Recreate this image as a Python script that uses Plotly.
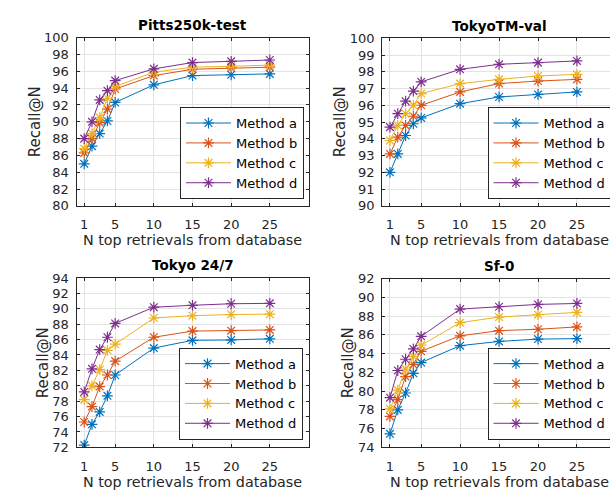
import plotly.graph_objects as go

N = [1, 2, 3, 4, 5, 10, 15, 20, 25]
methods = ["Method a", "Method b", "Method c", "Method d"]
colors = ["#0072BD", "#D95319", "#EDB120", "#7E2F8E"]

pitts_a = [85.0, 87.1, 88.6, 90.1, 92.3, 94.4, 95.5, 95.6, 95.7]
pitts_b = [86.3, 88.0, 89.9, 91.5, 93.9, 95.5, 96.25, 96.4, 96.5]
pitts_c = [86.8, 88.6, 90.5, 92.8, 94.2, 95.9, 96.5, 96.6, 96.75]
pitts_d = [88.0, 90.0, 92.6, 93.7, 94.9, 96.3, 97.05, 97.2, 97.35]

tokyotm_a = [92.0, 93.1, 94.2, 94.9, 95.25, 96.1, 96.5, 96.65, 96.8]
tokyotm_b = [93.1, 94.1, 94.8, 95.35, 96.0, 96.8, 97.3, 97.45, 97.55]
tokyotm_c = [93.9, 94.8, 95.5, 96.0, 96.7, 97.3, 97.55, 97.75, 97.85]
tokyotm_d = [94.7, 95.5, 96.25, 96.85, 97.4, 98.15, 98.45, 98.55, 98.65]

tokyo247_a = [72.3, 75.0, 76.6, 78.7, 81.4, 84.9, 85.9, 85.95, 86.1]
tokyo247_b = [75.3, 77.3, 79.9, 81.4, 83.2, 86.3, 87.1, 87.15, 87.25]
tokyo247_c = [78.2, 80.0, 82.1, 84.6, 85.4, 88.8, 89.1, 89.25, 89.3]
tokyo247_d = [79.2, 82.2, 84.7, 86.3, 88.1, 90.2, 90.45, 90.65, 90.7]

sf0_a = [75.45, 78.0, 79.8, 81.9, 83.05, 84.85, 85.3, 85.55, 85.6]
sf0_b = [77.3, 79.1, 81.55, 82.85, 84.25, 85.9, 86.45, 86.6, 86.85]
sf0_c = [78.1, 80.1, 82.35, 83.7, 84.9, 87.3, 87.9, 88.15, 88.4]
sf0_d = [79.3, 82.2, 83.4, 84.5, 85.85, 88.75, 89.0, 89.25, 89.35]

titles = ["Pitts250k-test", "TokyoTM-val", "Tokyo 24/7", "Sf-0"]
x_ticks = [1, 5, 10, 15, 20, 25]
y_ticks_pitts = list(range(80, 101, 2))
y_ticks_tokyotm = list(range(90, 101, 1))
y_ticks_tokyo247 = list(range(72, 95, 2))
y_ticks_sf0 = list(range(74, 93, 2))
x_label = "N top retrievals from database"
y_label = "Recall@N"

datasets = [
    [pitts_a, pitts_b, pitts_c, pitts_d],
    [tokyotm_a, tokyotm_b, tokyotm_c, tokyotm_d],
    [tokyo247_a, tokyo247_b, tokyo247_c, tokyo247_d],
    [sf0_a, sf0_b, sf0_c, sf0_d],
]
y_ticks_all = [y_ticks_pitts, y_ticks_tokyotm, y_ticks_tokyo247, y_ticks_sf0]

# The figure is a little wider than the 610 px window: the right-hand panels
# run past the window edge (as in the original, which is cropped there).
W, H = 622, 501
FONT = "DejaVu Sans"
AX = "#262626"
GRID = "#e3e3e3"


def px(v):
    return v / W


def py(v):
    return 1 - v / H


# panel boxes in window pixels: (left, right, top, bottom)
panels = [
    (76.5, 308.5, 31.7, 205.0),
    (382.2, 615.9, 32.3, 205.0),
    (76.5, 308.5, 279.3, 454.0),
    (382.2, 615.9, 280.0, 454.0),
]
legend_pos = [(180, 198), (487.5, 198), (179, 446), (487.5, 446)]

fig = go.Figure()
layout = dict(
    width=W, height=H, margin=dict(l=0, r=0, t=0, b=0),
    paper_bgcolor="white", plot_bgcolor="white",
    font=dict(family=FONT, color=AX, size=13),
    annotations=[],
)

for i in range(4):
    l, r, t, b = panels[i]
    sfx = "" if i == 0 else str(i + 1)
    yt = y_ticks_all[i]
    layout["xaxis" + sfx] = dict(
        domain=[px(l), px(r)], range=[0, 30], anchor="y" + sfx,
        tickvals=x_ticks, ticks="inside", ticklen=3, tickcolor=AX,
        showline=True, linecolor=AX, linewidth=1, mirror="ticks",
        showgrid=True, gridcolor=GRID, gridwidth=1, zeroline=False,
        tickfont=dict(family=FONT, size=13, color=AX),
        ticklabelstandoff=7,
    )
    layout["yaxis" + sfx] = dict(
        domain=[py(b), py(t)], range=[yt[0], yt[-1]], anchor="x" + sfx,
        tickvals=yt, ticks="inside", ticklen=3, tickcolor=AX,
        showline=True, linecolor=AX, linewidth=1, mirror="ticks",
        showgrid=True, gridcolor=GRID, gridwidth=1, zeroline=False,
        tickfont=dict(family=FONT, size=13, color=AX),
        ticklabelstandoff=4,
    )
    lg = "legend" if i == 0 else "legend" + str(i + 1)
    lx, ly = legend_pos[i]
    layout[lg] = dict(
        x=px(lx), y=py(ly), xanchor="left", yanchor="bottom",
        xref="paper", yref="paper",
        bgcolor="white", bordercolor=AX, borderwidth=1,
        font=dict(family=FONT, size=13, color="black"),
        itemwidth=45, tracegroupgap=0, traceorder="normal",
    )
    for j in range(4):
        fig.add_trace(go.Scatter(
            x=N, y=datasets[i][j], name=methods[j], mode="lines+markers",
            line=dict(color=colors[j], width=1),
            marker=dict(symbol="asterisk-open", size=9,
                        line=dict(color=colors[j], width=1.2)),
            xaxis="x" + sfx, yaxis="y" + sfx, legend=lg,
        ))
    cx = (l + r) / 2
    layout["annotations"].append(dict(
        text="<b>" + titles[i] + "</b>", x=px(cx), y=py(t - 13),
        xref="paper", yref="paper", showarrow=False,
        xanchor="center", yanchor="middle",
        font=dict(family=FONT, size=13.5, color="black"),
    ))
    layout["annotations"].append(dict(
        text=x_label, x=px(cx), y=py(b + 35.5),
        xref="paper", yref="paper", showarrow=False,
        xanchor="center", yanchor="middle",
        font=dict(family=FONT, size=14.3, color=AX),
    ))
    ylx = l - (42 if i < 2 else 34)
    layout["annotations"].append(dict(
        text=y_label, x=px(ylx), y=py((t + b) / 2),
        xref="paper", yref="paper", showarrow=False, textangle=-90,
        xanchor="center", yanchor="middle",
        font=dict(family=FONT, size=15, color=AX),
    ))

fig.update_layout(**layout)
fig.write_html(
    "out.html",
    config={"displayModeBar": False},
    post_script="document.body.style.margin='0';document.body.style.overflow='hidden';",
)
